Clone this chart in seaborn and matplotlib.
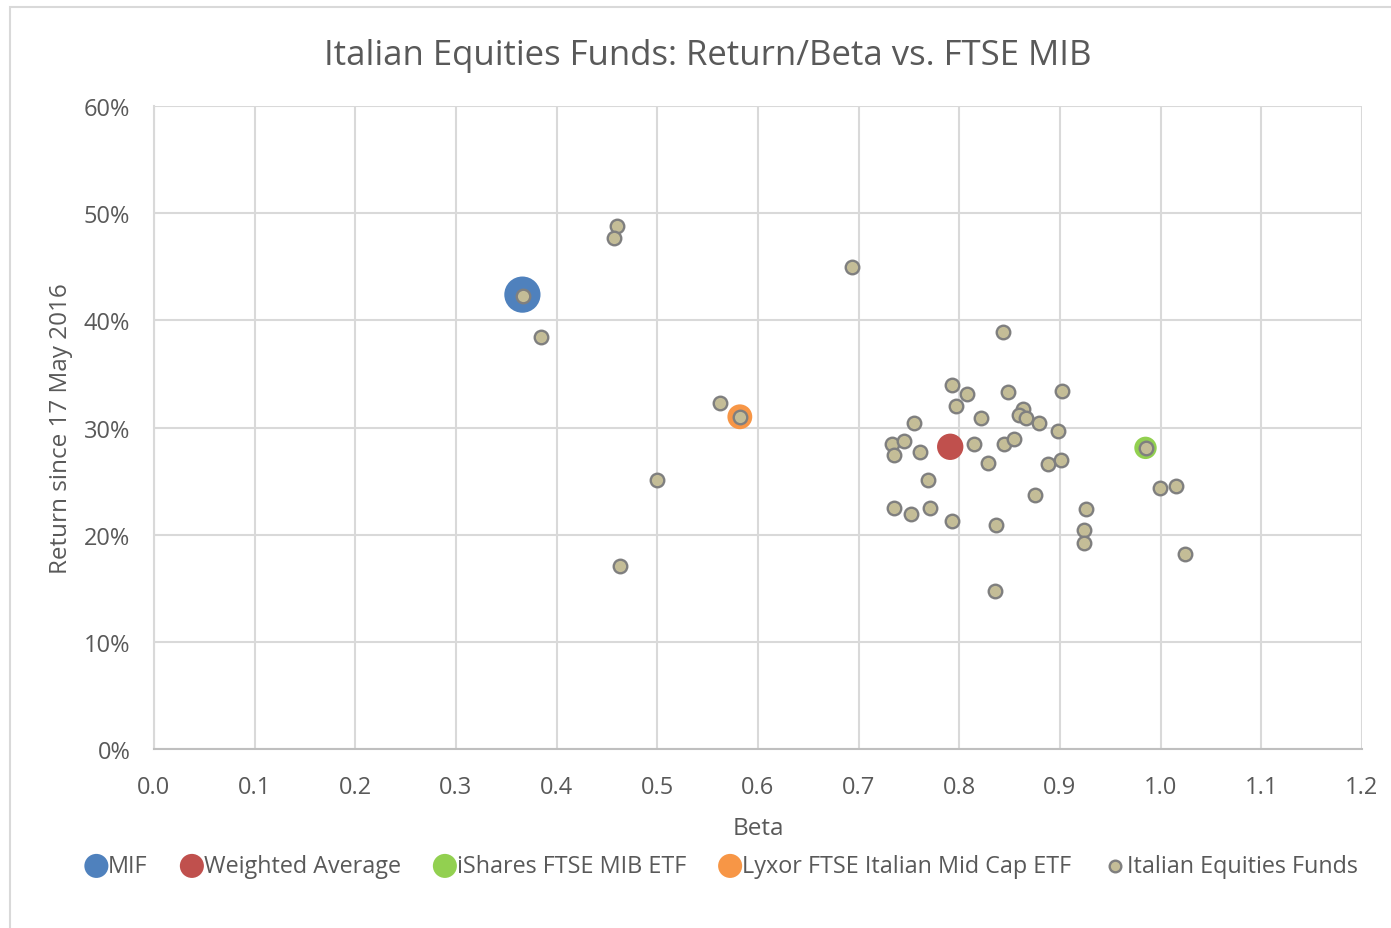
import matplotlib
matplotlib.use("Agg")
import matplotlib.pyplot as plt
import matplotlib.patches as mpatches
from matplotlib.ticker import PercentFormatter
import numpy as np
import pandas as pd
import seaborn as sns

# fund universe (beta, return %)
fund_beta = [0.367, 0.384, 0.460, 0.457, 0.463, 0.500, 0.562, 0.582, 0.693, 0.843,
             0.793, 0.808, 0.797, 0.848, 0.902, 0.863, 0.859, 0.866, 0.879, 0.898,
             0.755, 0.822, 0.733, 0.745, 0.735, 0.761, 0.815, 0.844, 0.854, 0.829,
             0.888, 0.901, 0.769, 0.875, 0.735, 0.752, 0.771, 0.793, 0.836, 0.926,
             0.924, 0.924, 0.835, 0.985, 0.999, 1.015, 1.024]
fund_return = [42.3, 38.4, 48.8, 47.7, 17.1, 25.1, 32.3, 31.0, 45.0, 38.9,
               34.0, 33.1, 32.0, 33.3, 33.4, 31.7, 31.2, 30.9, 30.4, 29.7,
               30.4, 30.9, 28.5, 28.7, 27.4, 27.7, 28.5, 28.5, 28.9, 26.7,
               26.6, 27.0, 25.1, 23.7, 22.5, 21.9, 22.5, 21.3, 20.9, 22.4,
               20.4, 19.2, 14.7, 28.1, 24.4, 24.5, 18.2]

# highlighted points
special_names = ["MIF", "Weighted Average", "iShares FTSE MIB ETF", "Lyxor FTSE Italian Mid Cap ETF"]
special_beta = [0.366, 0.791, 0.985, 0.582]
special_return = [42.4, 28.2, 28.1, 31.0]
special_colors = ["#4f81bd", "#c0504d", "#92d050", "#f79646"]
special_sizes = [680, 360, 260, 320]

funds = pd.DataFrame({"beta": fund_beta, "ret": fund_return})

sns.set_style("whitegrid")
plt.rcParams["font.family"] = ["Open Sans", "DejaVu Sans"]

fig = plt.figure(figsize=(13.91, 9.29), dpi=100)
ax = fig.add_axes([0.1107, 0.1927, 0.8684, 0.6921])

# chart border like excel chart area
fig.patches.append(mpatches.Rectangle((0.007, -0.01), 1.2, 1.001, transform=fig.transFigure,
                                      fill=False, edgecolor="#d9d9d9", linewidth=1.5))

for name, b, r, c, s in zip(special_names, special_beta, special_return, special_colors, special_sizes):
    sns.scatterplot(x=[b], y=[r], ax=ax, s=s, color=c, edgecolor="none", label=name, zorder=3)

sns.scatterplot(data=funds, x="beta", y="ret", ax=ax, s=95, color="#c4bd97",
                edgecolor="#7f7f7f", linewidth=1.7, label="Italian Equities Funds", zorder=4)

ax.set_xlim(0, 1.2)
ax.set_ylim(0, 60)
ax.set_xticks(np.arange(0, 1.21, 0.1))
ax.set_xticklabels([f"{v:.1f}" for v in np.arange(0, 1.21, 0.1)])
ax.set_yticks(np.arange(0, 61, 10))
ax.yaxis.set_major_formatter(PercentFormatter(decimals=0))
ax.grid(True, color="#d9d9d9", linewidth=1.5)
for side in ["top", "right"]:
    ax.spines[side].set_visible(False)
ax.spines["left"].set_color("#d9d9d9")
ax.spines["left"].set_linewidth(1.5)
ax.spines["bottom"].set_color("#bfbfbf")
ax.spines["bottom"].set_linewidth(1.5)
ax.tick_params(axis="both", labelsize=17, colors="#595959", length=0)
ax.tick_params(axis="x", pad=19)
ax.tick_params(axis="y", pad=17)

fig.text(0.509, 0.940, "Italian Equities Funds: Return/Beta vs. FTSE MIB", fontsize=25,
         color="#595959", ha="center", va="center")
ax.set_xlabel("Beta", fontsize=17.5, color="#595959", labelpad=12)
ax.set_ylabel("Return since 17 May 2016", fontsize=17.5, color="#595959", labelpad=8)

handles, labels = ax.get_legend_handles_labels()
ax.legend_.remove()
leg = fig.legend(handles, labels, loc="center", bbox_to_anchor=(0.516, 0.0667), ncol=5,
                 frameon=False, fontsize=16.8, handletextpad=-0.3, columnspacing=1.1,
                 handlelength=1.6, labelcolor="#595959")
for h, lab in zip(leg.legend_handles, labels):
    if lab == "Italian Equities Funds":
        h.set_sizes([70])
    else:
        h.set_sizes([300])

fig.savefig("out.png", dpi=100)
